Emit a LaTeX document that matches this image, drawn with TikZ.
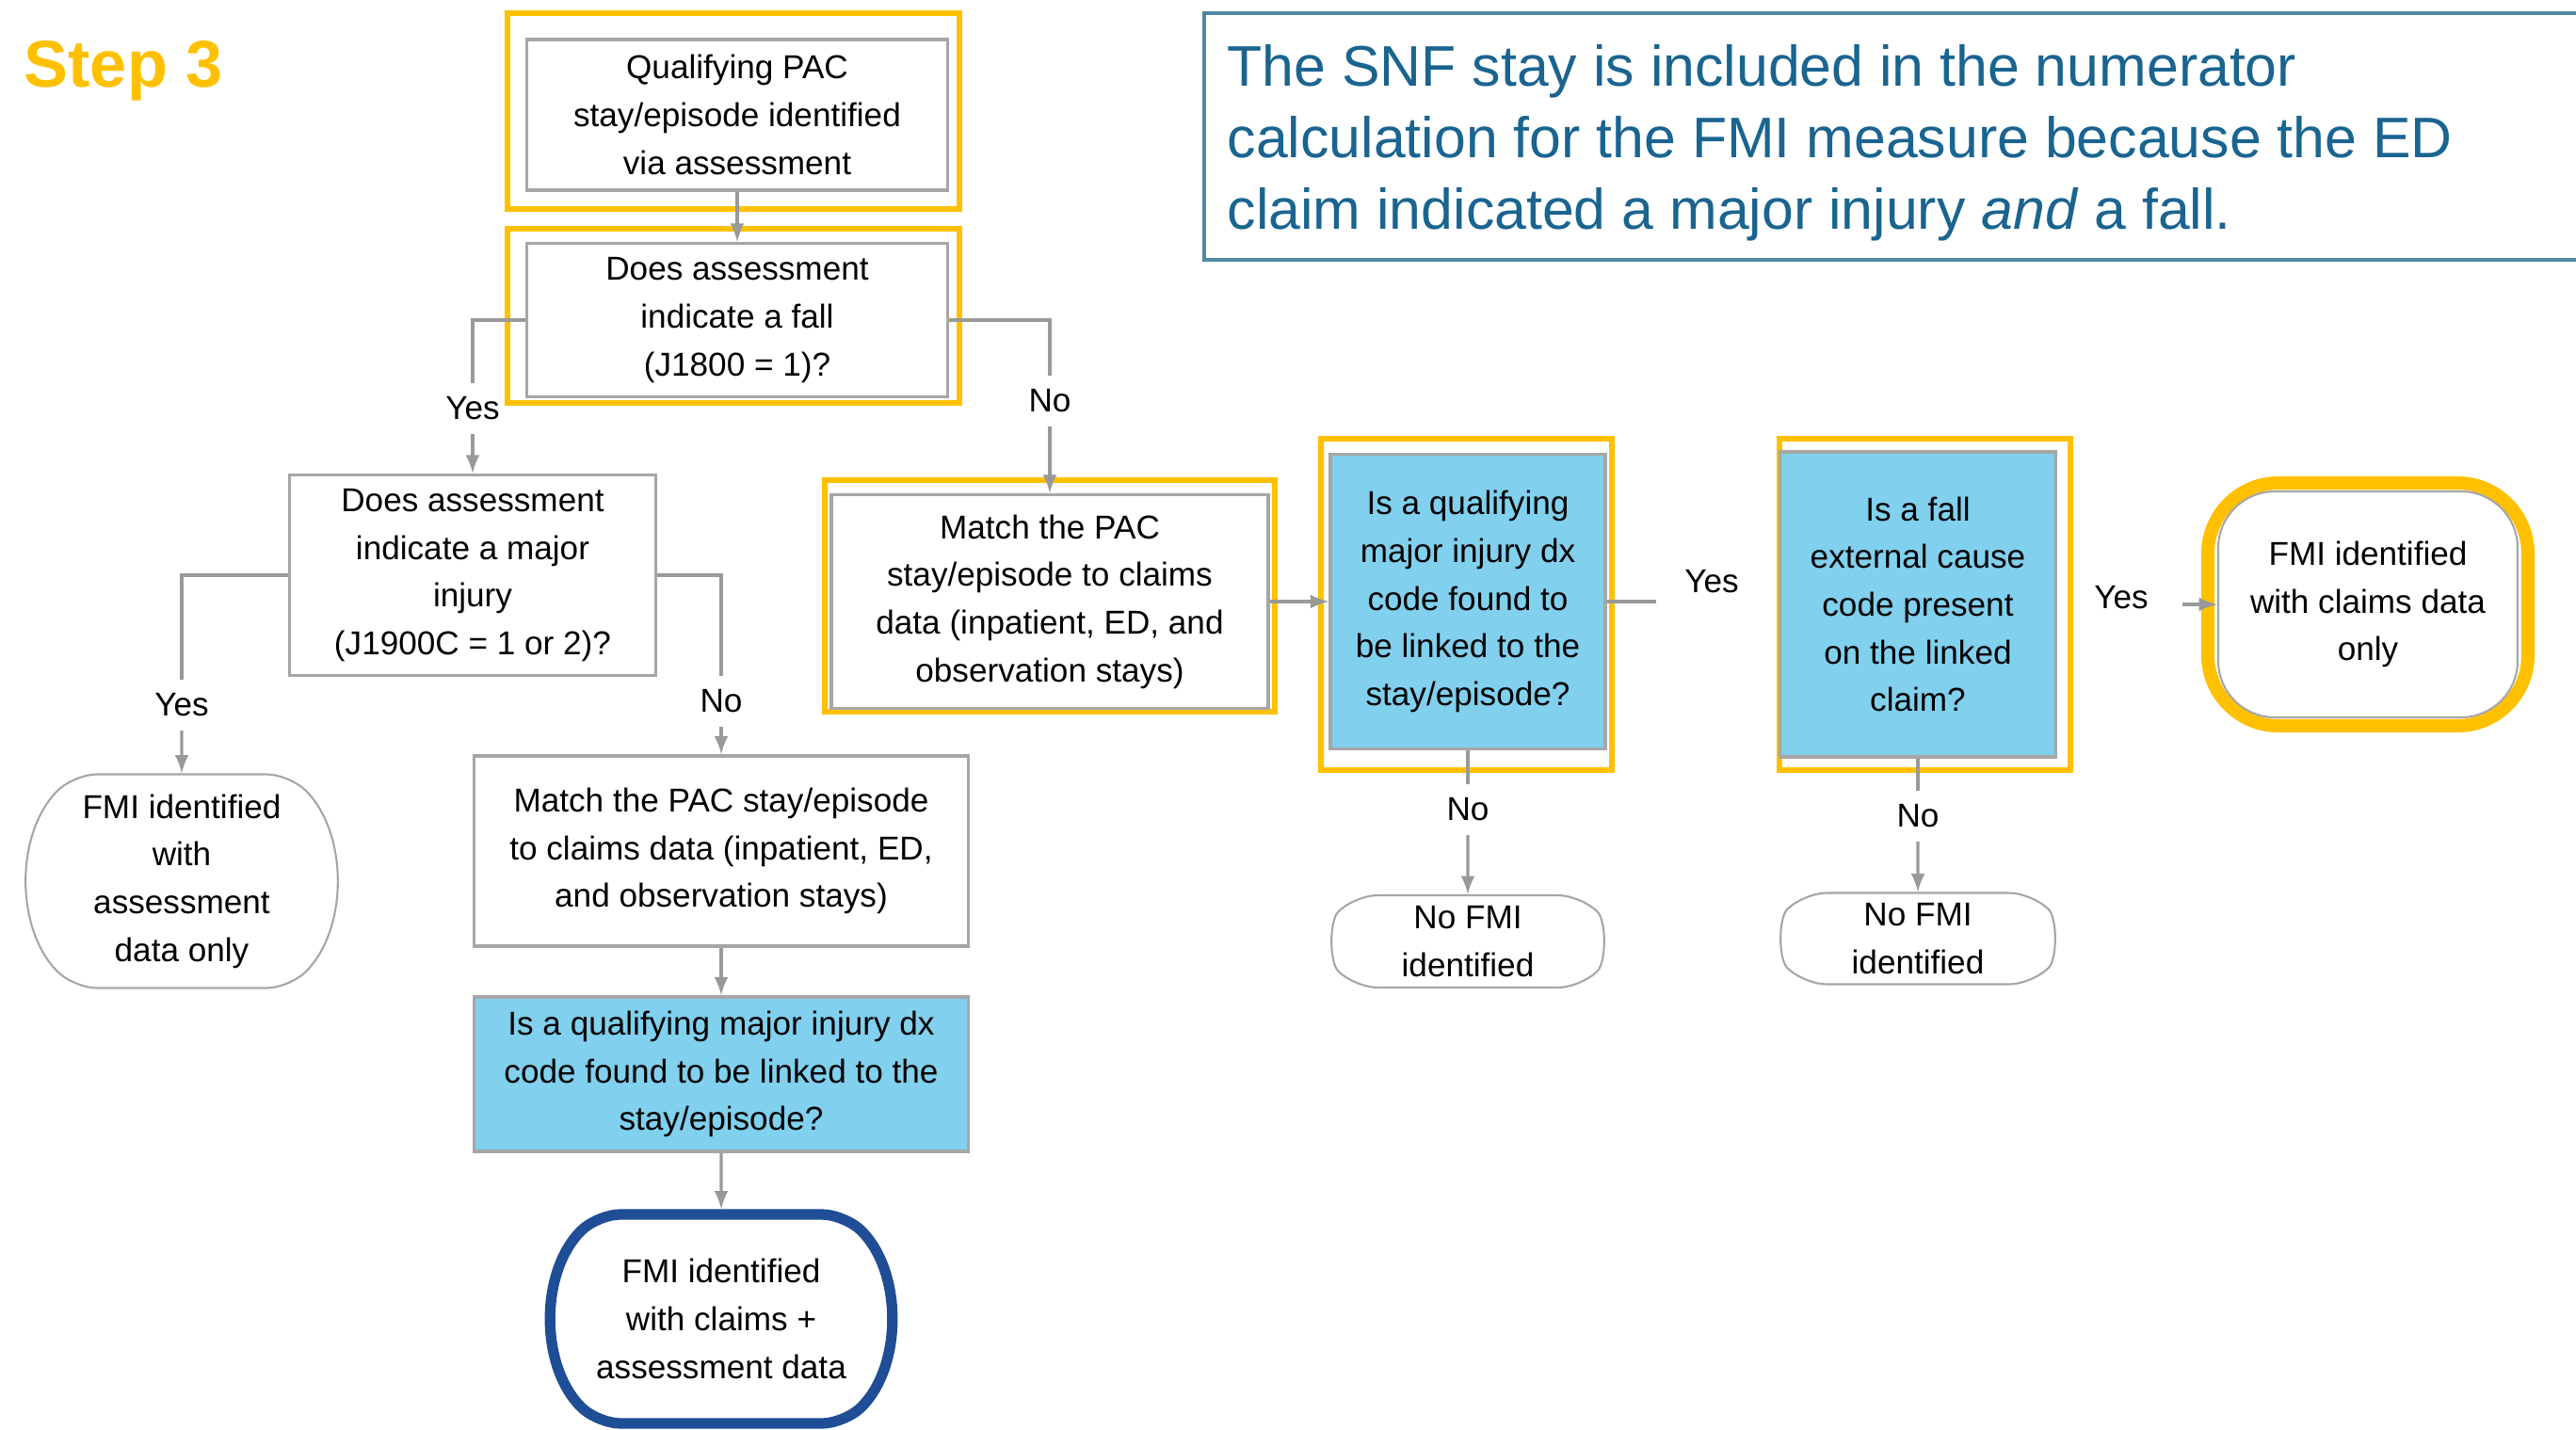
\documentclass[tikz,border=0pt]{standalone}
\usepackage{fontspec}
\setmainfont{Liberation Sans}
\usetikzlibrary{shapes.misc, positioning}
\definecolor{gold}{HTML}{FFC000}
\definecolor{boxgray}{HTML}{A6A6A6}
\definecolor{linkgray}{HTML}{999999}
\definecolor{skyfill}{HTML}{80D0EE}
\definecolor{navy}{HTML}{1F4E96}
\definecolor{notetext}{HTML}{1A6490}
\definecolor{noteedge}{HTML}{4E88A2}

\begin{document}
\begin{tikzpicture}[
		qbox/.style={draw=boxgray, line width=1pt, fill=white, align=center, inner sep=2pt,
			font=\fontsize{10}{14.4}\selectfont},
		qblue/.style={qbox, fill=skyfill},
		term/.style={rounded rectangle, rounded rectangle arc length=90, rounded corners=7pt,
			draw=boxgray, line width=0.6pt, fill=white, align=center, inner sep=2pt,
			font=\fontsize{10}{14.4}\selectfont},
		hilite/.style={draw=gold, line width=1.6pt},
		lbl/.style={font=\fontsize{10}{12}\selectfont, inner sep=4pt},
		link/.style={draw=linkgray, line width=0.9pt},
		arr/.style={link, -latex}
	]
	\useasboundingbox (0,0) rectangle (27.36,-15.18);

	\node[font=\fontsize{20}{24}\bfseries, text=gold, anchor=west, inner sep=0pt]
		(title) at (0.25,-0.75) {Step 3};

	% note in the top right corner
	\draw[noteedge, line width=1pt] (12.79,-0.14) rectangle (27.9,-2.76);
	\node[anchor=north west, align=left, inner sep=0pt, text=notetext,
		font=\fontsize{17.3}{21.6}\selectfont] (note) at (13.03,-0.47)
		{The SNF stay is included in the numerator\\
		calculation for the FMI measure because the ED\\
		claim indicated a major injury \textit{and} a fall.};

	% highlighted path
	\draw[hilite] (5.39,-0.14) rectangle (10.19,-2.22);
	\draw[hilite] (5.39,-2.43) rectangle (10.19,-4.28);
	\draw[hilite] (8.76,-5.10) rectangle (13.54,-7.56);
	\draw[hilite] (14.03,-4.66) rectangle (17.12,-8.18);
	\draw[hilite] (18.90,-4.66) rectangle (21.99,-8.18);
	\node[rectangle, rounded corners=0.75cm, draw=gold, line width=4pt,
		minimum width=3.40cm, minimum height=2.58cm] (ring) at (25.15,-6.42) {};

	\node[qbox, minimum width=4.47cm, minimum height=1.60cm] (q1) at (7.83,-1.22)
		{Qualifying PAC\\stay/episode identified\\via assessment};
	\node[qbox, minimum width=4.47cm, minimum height=1.63cm] (q2) at (7.83,-3.40)
		{Does assessment\\indicate a fall\\(J1800 = 1)?};
	\node[qbox, minimum width=3.89cm, minimum height=2.13cm] (q3) at (5.02,-6.11)
		{Does assessment\\indicate a major\\injury\\(J1900C = 1 or 2)?};
	\node[qbox, minimum width=4.64cm, minimum height=2.27cm] (m1) at (11.15,-6.39)
		{Match the PAC\\stay/episode to claims\\data (inpatient, ED, and\\observation stays)};
	\node[qblue, minimum width=2.92cm, minimum height=3.13cm] (q5) at (15.59,-6.39)
		{Is a qualifying\\major injury dx\\code found to\\be linked to the\\stay/episode?};
	\node[qblue, minimum width=2.93cm, minimum height=3.24cm] (q6) at (20.37,-6.42)
		{Is a fall\\external cause\\code present\\on the linked\\claim?};
	\node[qbox, rounded corners=0.6cm, line width=0.6pt, minimum width=3.18cm,
		minimum height=2.40cm] (t4) at (25.15,-6.42) {FMI identified\\with claims data\\only};
	\node[term, minimum width=3.37cm, minimum height=2.27cm] (t1) at (1.93,-9.36)
		{FMI identified\\with\\assessment\\data only};
	\node[qbox, minimum width=5.25cm, minimum height=2.02cm] (m2) at (7.66,-9.04)
		{Match the PAC stay/episode\\to claims data (inpatient, ED,\\and observation stays)};
	\node[qblue, minimum width=5.25cm, minimum height=1.64cm] (q8) at (7.66,-11.41)
		{Is a qualifying major injury dx\\code found to be linked to the\\stay/episode?};
	\node[term, draw=navy, line width=3.2pt, minimum width=3.69cm, minimum height=2.22cm]
		(t2) at (7.66,-14.01) {FMI identified\\with claims +\\assessment data};
	\node[term, minimum width=2.95cm, minimum height=0.98cm] (t3) at (15.59,-10.00)
		{No FMI\\identified};
	\node[term, minimum width=2.97cm, minimum height=0.97cm] (t5) at (20.37,-9.97)
		{No FMI\\identified};

	% branch labels
	\node[lbl] (yes1) at (5.02,-4.34) {Yes};
	\node[lbl] (no1) at (11.15,-4.26) {No};
	\node[lbl] (yes2) at (1.93,-7.49) {Yes};
	\node[lbl] (no2) at (7.66,-7.45) {No};
	\node[lbl] (yes3) at (18.18,-6.18) {Yes};
	\node[lbl] (yes4) at (22.53,-6.35) {Yes};
	\node[lbl] (no3) at (15.59,-8.60) {No};
	\node[lbl] (no4) at (20.37,-8.67) {No};
	\coordinate (y3end) at (17.59,-6.39);
	\coordinate (y4start) at (23.18,-6.42);

	\draw[arr] (q1) -- (q2);
	\draw[link] (q2.west) -| (yes1);
	\draw[arr] (yes1) -- (q3);
	\draw[link] (q2.east) -| (no1);
	\draw[arr] (no1) -- (m1);
	\draw[link] (q3.west) -| (yes2);
	\draw[arr] (yes2) -- (t1);
	\draw[link] (q3.east) -| (no2);
	\draw[arr] (no2) -- (m2);
	\draw[arr] (m2) -- (q8);
	\draw[arr] (q8) -- (t2);
	\draw[arr] (m1) -- (q5);
	\draw[link] (q5.east) -- (y3end);
	\draw[arr] (y4start) -- (t4.west);
	\draw[link] (q5) -- (no3);
	\draw[arr] (no3) -- (t3);
	\draw[link] (q6) -- (no4);
	\draw[arr] (no4) -- (t5);
\end{tikzpicture}
\end{document}
